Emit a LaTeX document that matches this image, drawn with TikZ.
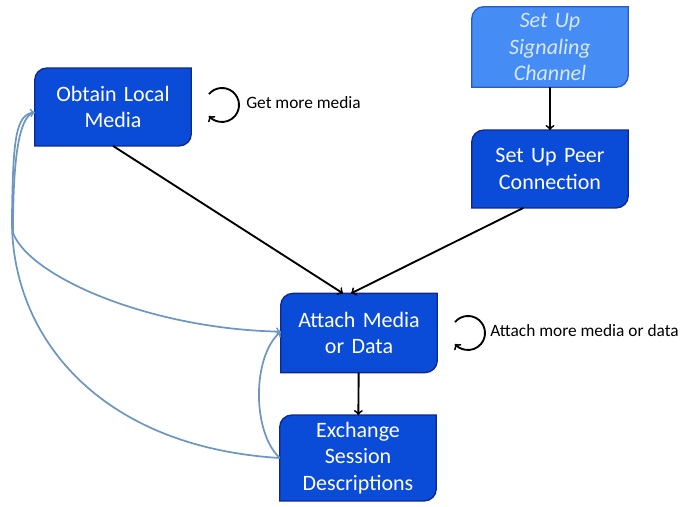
\documentclass[tikz,border=0pt]{standalone}
\usepackage{fontspec}
\setmainfont{Carlito}
\usepackage{tikz}
\usetikzlibrary{arrows}
\usetikzlibrary{backgrounds}

\definecolor{boxblue}{RGB}{10,75,215}
\definecolor{boxedge}{RGB}{15,40,140}
\definecolor{lightbox}{RGB}{70,140,245}
\definecolor{lightedge}{RGB}{40,90,200}
\definecolor{paletext}{RGB}{215,232,255}
\definecolor{linkblue}{RGB}{110,150,195}

\begin{document}
\begin{tikzpicture}[x=0.75pt,y=0.75pt,
		stage/.style={minimum width=117pt,minimum height=58pt,inner sep=0pt,text width=114pt,align=center,text=white,font=\fontsize{16.5}{20}\selectfont},
		flow/.style={->,black,line width=1.4pt},
		back/.style={->,linkblue,line width=1.3pt},
		note/.style={right,inner sep=0pt,font=\fontsize{13}{15}\selectfont}]
		\useasboundingbox (0,0) rectangle (683,507);
		\node[stage] (obtain) at (113,400) {Obtain Local\\Media};
		\node[stage,text=paletext,font=\fontsize{16.5}{20}\selectfont\itshape,minimum height=60pt] (signal) at (550,460) {Set Up\\Signaling\\Channel};
		\node[stage] (peer) at (550,338) {Set Up Peer\\Connection};
		\node[stage,minimum height=59pt] (attach) at (359,174) {Attach Media\\or Data};
		\node[stage,minimum height=64pt] (exchange) at (358,49) {Exchange\\Session\\Descriptions};
		\begin{pgfonlayer}{background}
			\foreach \n/\f/\e in {obtain/boxblue/boxedge, signal/lightbox/lightedge, peer/boxblue/boxedge, attach/boxblue/boxedge, exchange/boxblue/boxedge}
				\filldraw[fill=\f,draw=\e,line width=1pt] (\n.south west) -- ([yshift=-9pt]\n.north west) arc[start angle=180,end angle=90,radius=9pt] -- (\n.north east) -- ([yshift=9pt]\n.south east) arc[start angle=0,end angle=-90,radius=9pt] -- cycle;
		\end{pgfonlayer}
		\draw[flow] (signal) -- (peer);
		\draw[flow] (obtain.south) -- ([xshift=-12pt]attach.north);
		\draw[flow] ([xshift=-20pt]peer.south) -- ([xshift=-6pt]attach.north);
		\draw[flow] (attach) -- (exchange);
		\coordinate (loopa) at (222,402);
		\coordinate (loopb) at (468,174);
		\draw[flow] ([shift={(140:17)}]loopa) arc[start angle=140,end angle=-140,radius=17];
		\draw[flow] ([shift={(140:17)}]loopb) arc[start angle=140,end angle=-140,radius=17];
		\node[note] (getmore) at (246,404) {Get more media};
		\node[note] (attachmore) at (490,176) {Attach more media or data};
		\draw[back] (exchange.west) .. controls (100,60) and (10,170) .. (12,290) .. controls (13,370) and (16,392) .. ([yshift=-4pt]obtain.west);
		\draw[back] ([yshift=-4pt]obtain.west) .. controls (16,392) and (13,330) .. (13,274) .. controls (30,230) and (150,178) .. ([yshift=1pt]attach.west);
		\draw[back] (exchange.west) .. controls (252,75) and (252,150) .. ([yshift=1pt]attach.west);
	\end{tikzpicture}
\end{document}
